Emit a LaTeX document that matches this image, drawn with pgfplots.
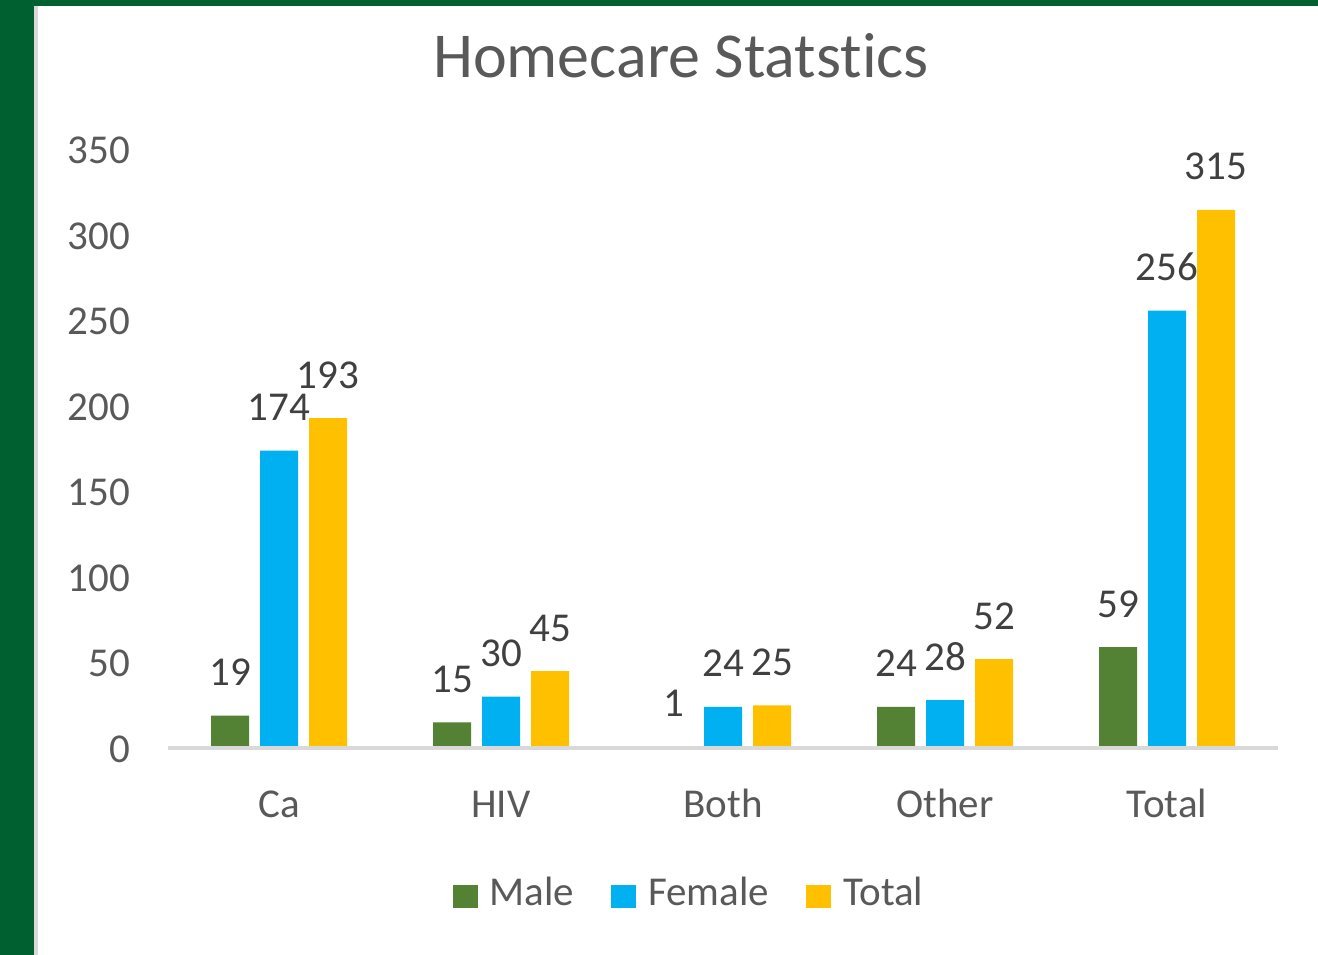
\documentclass[border=0pt]{standalone}
\usepackage{fontspec}
\setmainfont{Carlito}[Ligatures=NoCommon]
\usepackage{pgfplots}
\pgfplotsset{compat=1.18}
\definecolor{framegreen}{RGB}{0,96,48}
\definecolor{stripgray}{RGB}{217,217,217}
\definecolor{cmale}{HTML}{548235}
\definecolor{cfemale}{HTML}{00B0F0}
\definecolor{ctotal}{HTML}{FFC000}
\definecolor{ticktext}{HTML}{595959}
\definecolor{labeltext}{HTML}{404040}
\newcommand{\tf}{\fontsize{20.5bp}{24bp}\selectfont}
\begin{document}
\begin{tikzpicture}
\path[use as bounding box] (0,0) rectangle (659bp,477.5bp);
\fill[white] (0,0) rectangle (659bp,477.5bp);
\fill[framegreen] (0,0) rectangle (17bp,477.5bp);
\fill[framegreen] (0,474.5bp) rectangle (659bp,477.5bp);
\fill[stripgray] (17bp,0) rectangle (19bp,474.5bp);
\node[anchor=base, text=ticktext, font=\fontsize{32bp}{38bp}\selectfont] at (340.5bp,438.5bp) {Homecare Statstics};
\begin{axis}[
  at={(84bp,103.5bp)}, anchor=south west,
  scale only axis, width=555bp, height=299bp,
  xmin=-0.5, xmax=4.5, ymin=0, ymax=350,
  ybar=5.5bp, bar width=19bp,
  axis on top,
  axis x line*=bottom, axis y line*=left,
  x axis line style={draw=stripgray, line width=1.6bp},
  y axis line style={draw=none},
  major tick length=0pt,
  xtick={0,1,2,3,4}, xticklabels={Ca,HIV,Both,Other,Total},
  ytick={0,50,...,350},
  /pgf/number format/assume math mode=true,
  xticklabel style={anchor=base, yshift=-34.5bp, text=ticktext, font=\tf},
  yticklabel style={anchor=base east, xshift=-15.5bp, yshift=-7bp, text=ticktext, font=\tf},
  clip=false,
  nodes near coords,
  every node near coord/.append style={anchor=base, yshift=15bp, text=labeltext, font=\tf, inner sep=0pt},
  legend style={at={(0.4685,-0.2425)}, anchor=center, legend columns=3, draw=none, fill=none,
    nodes={inner sep=0pt, text=ticktext, font=\tf},
    /tikz/every odd column/.append style={column sep=6bp},
    /tikz/every even column/.append style={column sep=18.5bp}},
  legend image code/.code={\fill[#1,draw=none] (0bp,-7.5bp) rectangle (12.5bp,4bp);},
]
\addplot[fill=cmale, draw=none] coordinates {(0,19) (1,15) (2,1) (3,24) (4,59)};
\addplot[fill=cfemale, draw=none] coordinates {(0,174) (1,30) (2,24) (3,28) (4,256)};
\addplot[fill=ctotal, draw=none] coordinates {(0,193) (1,45) (2,25) (3,52) (4,315)};
\legend{Male,Female,Total}
\end{axis}
\end{tikzpicture}
\end{document}
